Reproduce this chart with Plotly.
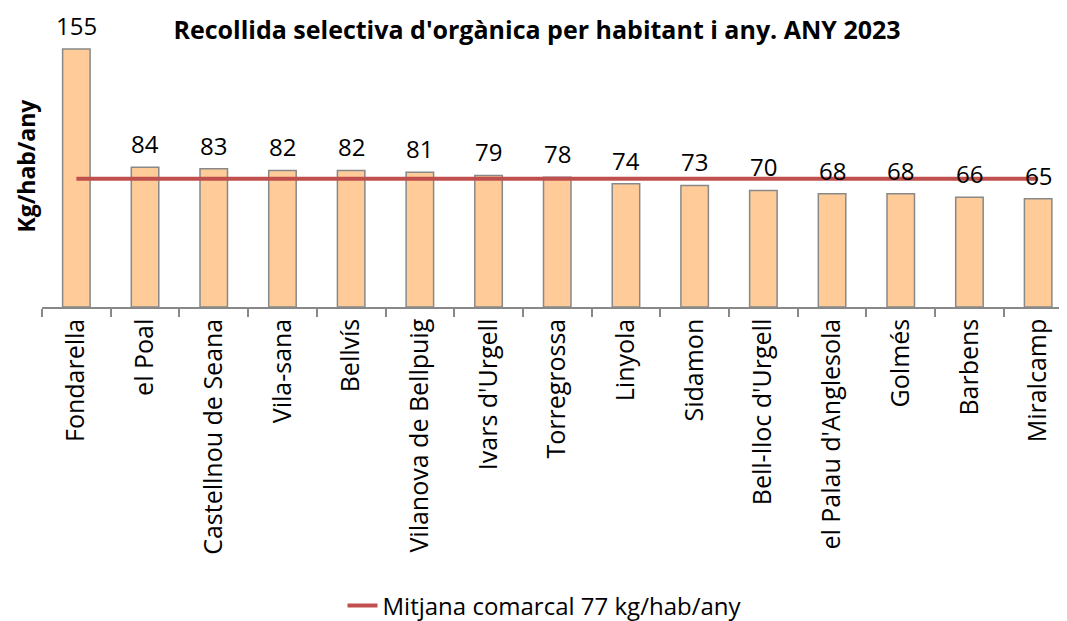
import plotly.graph_objects as go

categories = ["Fondarella", "el Poal", "Castellnou de Seana", "Vila-sana", "Bellvís",
              "Vilanova de Bellpuig", "Ivars d'Urgell", "Torregrossa", "Linyola", "Sidamon",
              "Bell-lloc d'Urgell", "el Palau d'Anglesola", "Golmés", "Barbens", "Miralcamp"]
values = [155, 84, 83, 82, 82, 81, 79, 78, 74, 73, 70, 68, 68, 66, 65]
average = 77
avg_name = "Mitjana comarcal 77 kg/hab/any"
title = "Recollida selectiva d'orgànica per habitant i any. ANY 2023"
ytitle = "Kg/hab/any"

FONT = "Open Sans, Noto Sans, DejaVu Sans, sans-serif"
# page body has an 8px margin, so the figure is sized to fit the window
W, H = 1059, 613
L, T, B = 34, 16, H - 299

fig = go.Figure()
fig.add_trace(go.Bar(
    x=categories, y=values, width=0.4,
    marker=dict(color="#FFCC99", line=dict(color="#888888", width=1.5)),
    showlegend=False, hoverinfo="x+y"))
fig.add_trace(go.Scatter(
    x=[categories[0], categories[-1]], y=[average, average], mode="lines",
    line=dict(color="#C0504D", width=4), name=avg_name))

for c, v in zip(categories, values):
    fig.add_annotation(x=c, y=v, text=str(v), showarrow=False, yanchor="bottom",
                       yshift=5, font=dict(size=24, color="#000", family=FONT))

fig.add_annotation(xref="paper", yref="paper", x=(17 - L) / (W - L), y=0.5,
                   text="<b>%s</b>" % ytitle, textangle=-90, showarrow=False,
                   xanchor="center", yanchor="middle",
                   font=dict(size=23, color="#000", family=FONT))

fig.update_layout(
    width=W, height=H,
    margin=dict(l=L, r=0, t=T, b=B, autoexpand=False),
    paper_bgcolor="white", plot_bgcolor="white",
    font=dict(family=FONT, color="#000"),
    title=dict(text="<b>%s</b>" % title, x=(537 - 8) / W, xanchor="center", y=1 - 22 / H,
               yanchor="middle", font=dict(size=25, color="#000", family=FONT)),
    xaxis=dict(range=[-0.5, 14.42], showline=True, linecolor="#888888", linewidth=1.5,
               ticks="outside", tickson="boundaries", ticklen=8, tickcolor="#888888",
               tickwidth=1.5, tickangle=-90, tickfont=dict(size=25, color="#000", family=FONT),
               showgrid=False, automargin=False),
    yaxis=dict(range=[0, 170], showline=False, showticklabels=False, ticks="",
               showgrid=False, zeroline=False, automargin=False),
    legend=dict(orientation="h", x=(545 - 8) / W, xanchor="center", xref="container",
                y=1 - 598 / H, yanchor="middle", yref="container",
                font=dict(size=24, color="#000", family=FONT)),
    showlegend=True,
)

fig.write_html("out.html")
